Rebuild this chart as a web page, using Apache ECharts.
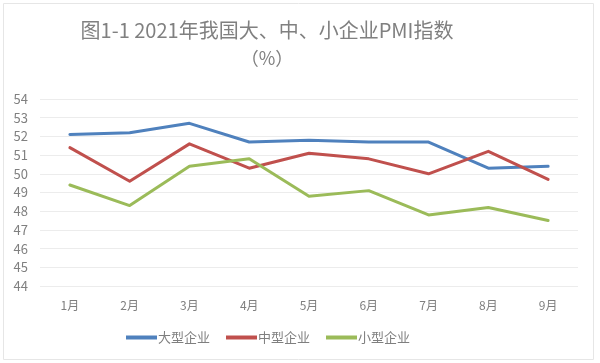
<!DOCTYPE html>
<html><head><meta charset="utf-8">
<script src="https://cdn.jsdelivr.net/npm/echarts@6/dist/echarts.min.js"></script>
<style>html,body{margin:0;padding:0;background:#fff}#c{width:600px;height:363px}</style>
</head><body><div id="c"></div>
<script>
const categories = ['1月','2月','3月','4月','5月','6月','7月','8月','9月'];
const largeValues = [52.1, 52.2, 52.7, 51.7, 51.8, 51.7, 51.7, 50.3, 50.4];
const mediumValues = [51.4, 49.6, 51.6, 50.3, 51.1, 50.8, 50.0, 51.2, 49.7];
const smallValues = [49.4, 48.3, 50.4, 50.8, 48.8, 49.1, 47.8, 48.2, 47.5];
const seriesNames = ['大型企业','中型企业','小型企业'];
const colors = ['#4f81bd','#c0504d','#9bbb59'];
const font = '"Noto Sans CJK SC", "Noto Sans", sans-serif';
const chart = echarts.init(document.getElementById('c'));
const mk = (name, data, i) => ({
  name, type:'line', data, symbol:'none', smooth:false,
  lineStyle:{width:3, color:colors[i], cap:'round', join:'round'},
  itemStyle:{color:colors[i]}
});
chart.setOption({
  animation:false,
  graphic:[{type:'rect', shape:{x:3.5,y:3.5,width:590,height:356}, style:{fill:'none', stroke:'#e6e6e6', lineWidth:1}, silent:true}],
  title:{text:'图1-1 2021年我国大、中、小企业PMI指数', subtext:'（%）', left:262, textAlign:'center', top:15, itemGap:9,
    textStyle:{fontFamily:font, fontSize:20, fontWeight:'normal', color:'#808080'},
    subtextStyle:{fontFamily:font, fontSize:18, color:'#808080'}},
  legend:{bottom:14, left:121, itemWidth:31, itemHeight:4, itemGap:16,
    icon:'rect',
    textStyle:{fontFamily:font, fontSize:13, color:'#7f7f7f', padding:[0,0,0,-4]}, data:seriesNames},
  grid:{left:40, right:22, top:99, bottom:77},
  xAxis:{type:'category', data:categories, boundaryGap:true,
    axisLine:{show:false}, axisTick:{show:false},
    axisLabel:{fontFamily:font, fontSize:12, color:'#7f7f7f', margin:13}},
  yAxis:{type:'value', min:44, max:54, interval:1,
    axisLine:{show:false}, axisTick:{show:false},
    axisLabel:{fontFamily:font, fontSize:13, color:'#808080', margin:12},
    splitLine:{lineStyle:{color:'#ececec', width:1}}},
  series:[mk(seriesNames[0], largeValues, 0), mk(seriesNames[1], mediumValues, 1), mk(seriesNames[2], smallValues, 2)]
});
</script></body></html>
